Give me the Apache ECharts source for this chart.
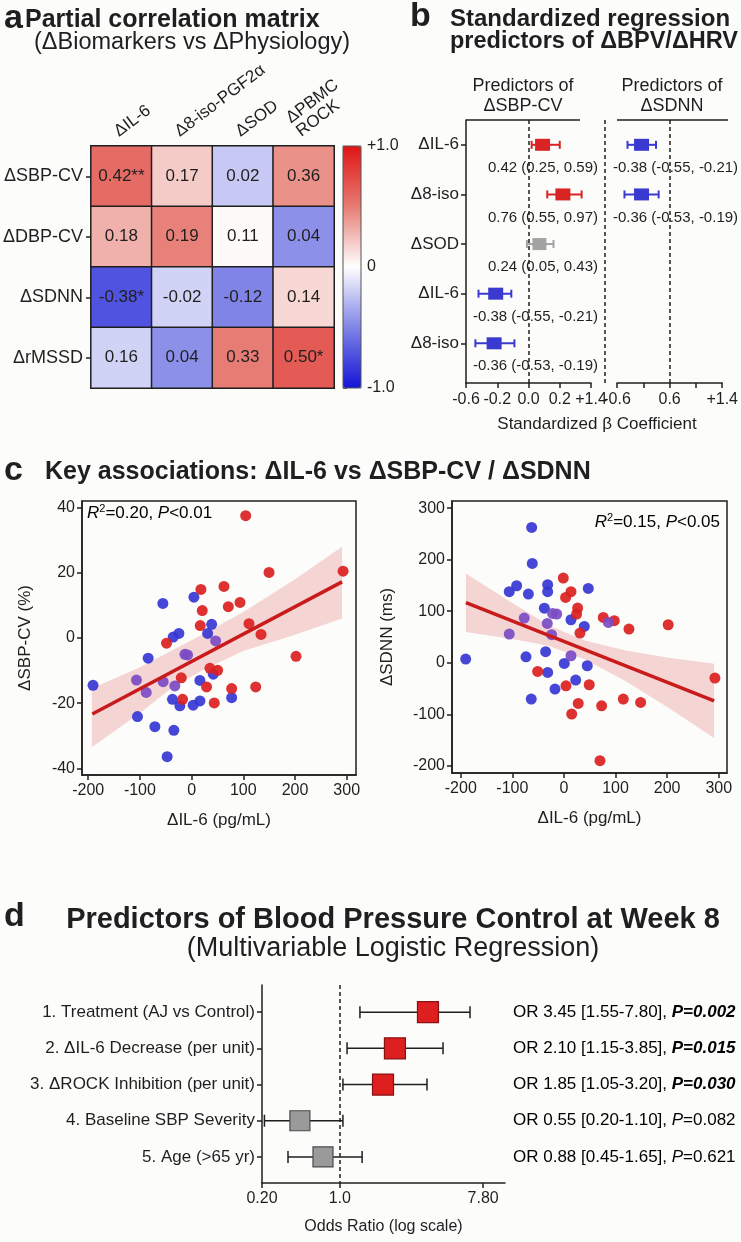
<!DOCTYPE html>
<html>
<head>
<meta charset="utf-8">
<script src="https://cdn.jsdelivr.net/npm/echarts@6/dist/echarts.min.js"></script>
<style>
html, body { margin: 0; padding: 0; background: #fcfcfb; }
#chart { width: 741px; height: 1242px; }
</style>
</head>
<body>
<div id="chart"></div>
<script>
const FONT = '"Liberation Sans", Arial, Helvetica, sans-serif';
const INK = '#1f1f1f';

// ---- a: partial correlation matrix
const corrCols = ['ΔIL-6', 'Δ8-iso-PGF2α', 'ΔSOD', 'ΔPBMC\nROCK'];
const corrRows = ['ΔSBP-CV', 'ΔDBP-CV', 'ΔSDNN', 'ΔrMSSD'];
const corrVals = [
  [0.42, 0.17, 0.02, 0.36],
  [0.18, 0.19, 0.11, 0.04],
  [-0.38, -0.02, -0.12, 0.14],
  [0.16, 0.04, 0.33, 0.50]
];
const corrStars = [
  ['**', '', '', ''],
  ['', '', '', ''],
  ['*', '', '', ''],
  ['', '', '', '*']
];
// shade of each cell as printed (the colours do not follow r exactly)
const corrShade = [
  [0.58, 0.2, -0.22, 0.42],
  [0.3, 0.48, 0.02, -0.45],
  [-0.72, -0.18, -0.5, 0.15],
  [-0.18, -0.45, 0.5, 0.66]
];
const colorbarLabels = {'1': '+1.0', '0': '0', '-1': '-1.0'};

// ---- b: standardized regression (axis labels are not to scale, so marks use plot units)
const bNames = ['ΔIL-6', 'Δ8-iso', 'ΔSOD', 'ΔIL-6', 'Δ8-iso'];
const bBeta = [0.42, 0.76, 0.24, -0.38, -0.36];
const bLow = [0.25, 0.55, 0.05, -0.55, -0.53];
const bHigh = [0.59, 0.97, 0.43, -0.21, -0.19];
const bGroup = ['pos', 'pos', 'ns', 'neg', 'neg'];
const bPlotMid = [0.09, 0.22, 0.07, -0.21, -0.22];
const bPlotLow = [0.02, 0.12, -0.01, -0.32, -0.34];
const bPlotHigh = [0.20, 0.34, 0.16, -0.11, -0.09];
const bTickLabels = ['-0.6', '-0.2', '0.0', '0.2', '+1.4'];

const hBeta = [-0.38, -0.36];
const hLow = [-0.55, -0.53];
const hHigh = [-0.21, -0.19];
const hGroup = ['neg', 'neg'];
const hPlotMid = [-0.04, -0.04];
const hPlotLow = [-0.36, -0.43];
const hPlotHigh = [0.29, 0.35];
const hTickLabels = ['-0.6', '', '0.6', '', '+1.4'];

// ---- c: IL-6 vs SBP-CV (left) and vs SDNN (right)
const sbpBlue = [[-55.6, 10.6], [-35.6, 0.3], [-24.6, 1.4], [4.5, 12.5], [38.8, 4.2], [31, 1.4], [-190.7, -14.5],
  [-84, -6.2], [-37, -18.8], [-22.7, -20.8], [-104.7, -24.1], [-71, -27.2], [-34.3, -28.3], [-47.3, -36.4],
  [41.9, -11.1], [16.1, -13], [77.5, -18.3], [16.1, -19.3], [3, -20.6]];
const sbpRed = [[-48.5, -1.6], [104.6, 37.5], [149.8, 20.1], [293, 20.5], [18, 14.9], [62.6, 15.8], [20.6, 8.4],
  [71, 9.6], [93.6, 10.9], [16.7, 3.8], [111, 4.4], [134.3, 1.1], [-17.5, -18.8], [-20, -12.2], [202, -5.6],
  [35.5, -9.3], [50.4, -9.9], [29, -15], [77.5, -15.5], [124, -15], [43.8, -19.9]];
const sbpPurple = [[46.5, -0.9], [-106.6, -12.9], [-87.8, -16.7], [-55, -13.4], [-32.4, -14.7], [-7.8, -5.2], [-13, -5]];
const sbpFit = [[-192, -23.3], [291, 17.2]];
const sbpBandX = [-193, -100, -40, 20, 100, 200, 291];
const sbpBandHi = [-15.5, -9, -4, 1, 8, 18, 28];
const sbpBandLo = [-33.5, -23, -15.5, -10, -4, 1, 6];

const sdnnBlue = [[-62.6, 262.7], [-61.4, 192.8], [-106, 137.9], [-91.7, 149.5], [-69, 133.4], [-31.6, 151.5],
  [-31.6, 137.9], [-38, 106], [47.1, 144.3], [13.6, 83.5], [39.4, 70.5], [-190.5, 7.2], [-73.6, 11.6],
  [-35.5, 21.4], [-31.6, -18.8], [-63.4, -70.5], [-17.4, -51.1], [0.6, -1.3], [45.2, -5.8], [22.7, -33.6]];
const sdnnRed = [[-1.3, 164.4], [13.6, 137.9], [3.2, 126.8], [26.5, 106.2], [24.5, 94.6], [31, 57.7], [76.2, 88],
  [97.5, 81.6], [126, 65.4], [202, 73.8], [-51, -16.8], [3.9, -44.7], [49, -42.7], [27.7, -79], [73, -83.5],
  [115, -70.5], [148.6, -77], [15, -99.6], [69.8, -190], [292.6, -29.7]];
const sdnnPurple = [[-77, 86.8], [-106, 55.7], [-32.3, 76.3], [-22, 95.7], [-24, 54.4], [-14, 94.6], [86, 78.3], [13.6, 13.6]];
const sdnnFit = [[-190, 116.5], [291, -74]];
const sdnnBandX = [-190, -100, -30, 40, 120, 200, 291];
const sdnnBandHi = [173.5, 116, 73, 43, 24, 10, -2];
const sdnnBandLo = [59.5, 46, 33, 7, -36, -86, -146];

const fitR2 = ['0.20', '0.15'];
const fitP = ['<0.01', '<0.05'];
const ilTicks = [-200, -100, 0, 100, 200, 300];
const sbpTicks = [-40, -20, 0, 20, 40];
const sdnnTicks = [-200, -100, 0, 100, 200, 300];

// ---- d: logistic regression (log axis printed with uneven labels, marks in plot units)
const dNames = ['1. Treatment (AJ vs Control)', '2. ΔIL-6 Decrease (per unit)', '3. ΔROCK Inhibition (per unit)',
  '4. Baseline SBP Severity', '5. Age (>65 yr)'];
const dOR = [3.45, 2.10, 1.85, 0.55, 0.88];
const dLow = [1.55, 1.15, 1.05, 0.20, 0.45];
const dHigh = [7.80, 3.85, 3.20, 1.10, 1.65];
const dP = [0.002, 0.015, 0.030, 0.082, 0.621];
const dPlotMid = [0.683, 0.547, 0.498, 0.156, 0.251];
const dPlotLow = [0.403, 0.35, 0.333, 0.01, 0.107];
const dPlotHigh = [0.856, 0.745, 0.679, 0.333, 0.412];
const dTickPos = [0, 0.32, 0.91];
const dTickLabels = ['0.20', '1.0', '7.80'];

const looks = {
  pos: {fill: '#d92424', edge: null, whisker: '#d92424', w: 15, h: 12},
  neg: {fill: '#3a3ad0', edge: null, whisker: '#3a3ad0', w: 15, h: 12},
  ns: {fill: '#a3a3a3', edge: null, whisker: '#a3a3a3', w: 14, h: 12},
  sig: {fill: '#dd1f1f', edge: '#8a1111', whisker: INK, w: 21, h: 21},
  nsd: {fill: '#9a9a9a', edge: '#4a4a4a', whisker: INK, w: 20, h: 20}
};

const chart = echarts.init(document.getElementById('chart'));

const heatData = [];
corrRows.forEach((r, i) => corrCols.forEach((c, j) => heatData.push([j, i, corrShade[i][j]])));

const fmt2 = v => v.toFixed(2);
const ciText = (m, l, h) => fmt2(m) + ' (' + fmt2(l) + ', ' + fmt2(h) + ')';

function forestRenderer(cfg) {
  return function (params, api) {
    const i = params.dataIndex;
    const row = api.value(3);
    const mid = api.coord([api.value(0), row]);
    const lo = api.coord([api.value(1), row]);
    const hi = api.coord([api.value(2), row]);
    const y = mid[1];
    const look = looks[cfg.group[i]];
    const ws = {stroke: look.whisker, lineWidth: cfg.lw};
    const kids = [
      {type: 'line', shape: {x1: lo[0], y1: y, x2: hi[0], y2: y}, style: ws},
      {type: 'line', shape: {x1: lo[0], y1: y - cfg.cap, x2: lo[0], y2: y + cfg.cap}, style: ws},
      {type: 'line', shape: {x1: hi[0], y1: y - cfg.cap, x2: hi[0], y2: y + cfg.cap}, style: ws},
      {type: 'rect', shape: {x: mid[0] - look.w / 2, y: y - look.h / 2, width: look.w, height: look.h},
        style: {fill: look.fill, stroke: look.edge, lineWidth: look.edge ? 1.2 : 0}}
    ];
    const t = cfg.text(i, api, row, y);
    if (t) kids.push({type: 'text', style: t});
    return {type: 'group', children: kids};
  };
}

function bandRenderer(xs, his, los) {
  return function (params, api) {
    if (params.dataIndex !== 0) return null;
    const pts = [];
    xs.forEach((x, k) => pts.push(api.coord([x, his[k]])));
    for (let k = xs.length - 1; k >= 0; k--) pts.push(api.coord([xs[k], los[k]]));
    return {type: 'polygon', shape: {points: pts}, style: {fill: 'rgba(222,110,110,0.28)'}};
  };
}

const axisLine = {show: true, onZero: false, lineStyle: {color: INK, width: 1.5}};
const tick = {show: true, length: 5, lineStyle: {color: INK, width: 1.5}};
const lab = (size) => ({fontSize: size, color: INK, fontFamily: FONT});
const dashed = {type: [4, 3], color: INK, width: 1.5};

function scatterAxes(gi, xr, yr, xTicks, yTicks, xName, yName) {
  return {
    x: {type: 'value', gridIndex: gi, min: xr[0], max: xr[1], axisLine, splitLine: {show: false},
      axisTick: Object.assign({customValues: xTicks}, tick),
      axisLabel: Object.assign({customValues: xTicks, margin: 8}, lab(16)),
      name: xName, nameLocation: 'middle', nameGap: 37, nameTextStyle: lab(17)},
    y: {type: 'value', gridIndex: gi, min: yr[0], max: yr[1], axisLine, splitLine: {show: false},
      axisTick: Object.assign({customValues: yTicks}, tick),
      axisLabel: Object.assign({customValues: yTicks, margin: 7}, lab(16)),
      name: yName, nameLocation: 'middle', nameGap: 48, nameRotate: 90, nameTextStyle: lab(17)}
  };
}
const sL = scatterAxes(4, [-212, 318], [-42, 42], ilTicks, sbpTicks, 'ΔIL-6 (pg/mL)', 'ΔSBP-CV (%)');
const sR = scatterAxes(5, [-217, 316], [-214, 314], ilTicks, sdnnTicks, 'ΔIL-6 (pg/mL)', 'ΔSDNN (ms)');
sR.y.nameGap = 56;

function dots(data, color, xi) {
  return {type: 'scatter', xAxisIndex: xi, yAxisIndex: xi, data, symbolSize: 11, z: 3,
    itemStyle: {color, opacity: 0.92}, silent: true};
}
function fitLine(data, xi) {
  return {type: 'line', xAxisIndex: xi, yAxisIndex: xi, data, showSymbol: false, z: 4, silent: true,
    lineStyle: {color: '#c91b1b', width: 3.5}};
}

const txt = (x, y, text, font, align, extra) => ({type: 'text', x, y, silent: true,
  style: Object.assign({text, font: font + ' ' + FONT, fill: INK, textAlign: align || 'left',
    textVerticalAlign: 'middle'}, extra || {})});
const seg = (x1, y1, x2, y2, dash) => ({type: 'line', silent: true, shape: {x1, y1, x2, y2},
  style: {stroke: INK, lineWidth: 1.5, lineDash: dash ? [4, 3] : null}});

const r2Rich = {
  n: {fontSize: 17, fontFamily: FONT, color: INK, lineHeight: 20},
  i: {fontSize: 17, fontFamily: FONT, color: INK, fontStyle: 'italic', lineHeight: 20},
  s: {fontSize: 11, fontFamily: FONT, color: INK, verticalAlign: 'top', lineHeight: 20, padding: [0, 0, 8, 0]}
};
const r2Text = k => '{i|R}{s|2}{n|=' + fitR2[k] + ', }{i|P}{n|' + fitP[k] + '}';

const option = {
  backgroundColor: '#fcfcfb',
  animation: false,
  textStyle: {fontFamily: FONT},
  grid: [
    {left: 88, top: 146, width: 246, height: 242},
    {left: 343, top: 146, width: 18, height: 242},
    {left: 466, top: 120, width: 125, height: 263},
    {left: 617, top: 120, width: 111, height: 263},
    {left: 82, top: 501, width: 274, height: 274, show: true, borderColor: INK, borderWidth: 1.5},
    {left: 452, top: 501, width: 275, height: 272, show: true, borderColor: INK, borderWidth: 1.5},
    {left: 262, top: 985, width: 243, height: 198}
  ],
  xAxis: [
    {type: 'category', gridIndex: 0, data: corrCols, position: 'top', axisLine: {show: false},
      axisTick: {show: false},
      axisLabel: Object.assign({rotate: -37, margin: 6, interval: 0, verticalAlign: 'bottom'}, lab(17))},
    {type: 'value', gridIndex: 1, show: false, min: 0, max: 1},
    {type: 'value', gridIndex: 2, min: -0.4, max: 0.4, interval: 0.2, axisLine, axisTick: tick,
      splitLine: {show: false},
      axisLabel: Object.assign({margin: 9, formatter: v => bTickLabels[Math.round((v + 0.4) / 0.2)]}, lab(16))},
    {type: 'value', gridIndex: 3, min: -0.6, max: 1.8, interval: 0.6, axisLine, axisTick: tick,
      splitLine: {show: false},
      axisLabel: Object.assign({margin: 9, formatter: v => hTickLabels[Math.round((v + 0.6) / 0.6)]}, lab(16))},
    sL.x, sR.x,
    {type: 'value', gridIndex: 6, min: 0, max: 1, axisLine, splitLine: {show: false},
      axisTick: Object.assign({customValues: dTickPos}, tick),
      axisLabel: Object.assign({customValues: dTickPos, margin: 8,
        formatter: v => dTickLabels[dTickPos.indexOf(v)]}, lab(16)),
      name: 'Odds Ratio (log scale)', nameLocation: 'middle', nameGap: 36, nameTextStyle: lab(16)}
  ],
  yAxis: [
    {type: 'category', gridIndex: 0, data: corrRows, inverse: true, axisLine: {show: false},
      axisTick: {show: true, alignWithLabel: true, length: 5, lineStyle: {color: INK, width: 1.5}},
      axisLabel: Object.assign({margin: 8}, lab(18))},
    {type: 'value', gridIndex: 1, min: -1, max: 1, interval: 0.5, position: 'right',
      axisLine: {show: false}, splitLine: {show: false},
      axisTick: {show: true, length: 4, lineStyle: {color: '#555', width: 1}},
      axisLabel: Object.assign({margin: 6, formatter: v => colorbarLabels[String(v)] || ''}, lab(16))},
    {type: 'value', gridIndex: 2, inverse: true, min: -0.5, max: 4.8, axisLine, splitLine: {show: false},
      axisTick: Object.assign({customValues: [0, 1, 2, 3, 4]}, tick),
      axisLabel: Object.assign({customValues: [0, 1, 2, 3, 4], margin: 7, formatter: v => bNames[v]}, lab(17))},
    {type: 'value', gridIndex: 3, inverse: true, min: -0.5, max: 4.8, show: false},
    sL.y, sR.y,
    {type: 'value', gridIndex: 6, inverse: true, min: -0.75, max: 4.72, axisLine, splitLine: {show: false},
      axisTick: Object.assign({customValues: [0, 1, 2, 3, 4]}, tick),
      axisLabel: Object.assign({customValues: [0, 1, 2, 3, 4], margin: 7, formatter: v => dNames[v]}, lab(17))}
  ],
  visualMap: {
    type: 'continuous', seriesIndex: 0, dimension: 2, min: -1, max: 1, calculable: false,
    left: 343, top: 146, itemWidth: 18, itemHeight: 242, padding: 0, text: null, hoverLink: false,
    inRange: {color: ['#1414d6', '#7f84e6', '#ffffff', '#e67c74', '#e01414']}
  },
  series: [
    {type: 'heatmap', xAxisIndex: 0, yAxisIndex: 0, data: heatData, silent: true,
      itemStyle: {borderColor: INK, borderWidth: 1.5},
      label: {show: true, fontSize: 17, color: INK, fontFamily: FONT,
        formatter: p => fmt2(corrVals[p.value[1]][p.value[0]]) + corrStars[p.value[1]][p.value[0]]}},
    {type: 'custom', xAxisIndex: 2, yAxisIndex: 2, silent: true,
      data: bNames.map((n, i) => [bPlotMid[i], bPlotLow[i], bPlotHigh[i], i]),
      renderItem: forestRenderer({group: bGroup, lw: 2, cap: 4,
        text: (i, api, row, y) => ({x: api.coord([0.4, row])[0] + 7, y: y + 23,
          text: ciText(bBeta[i], bLow[i], bHigh[i]), font: '15px ' + FONT, fill: INK,
          textAlign: 'right', textVerticalAlign: 'middle', align: 'right', verticalAlign: 'middle'})}),
      markLine: {silent: true, symbol: 'none', label: {show: false}, lineStyle: dashed, data: [{xAxis: 0}]}},
    {type: 'custom', xAxisIndex: 3, yAxisIndex: 3, silent: true,
      data: hBeta.map((n, i) => [hPlotMid[i], hPlotLow[i], hPlotHigh[i], i]),
      renderItem: forestRenderer({group: hGroup, lw: 2, cap: 4,
        text: (i, api, row, y) => ({x: api.coord([-0.6, row])[0] - 4, y: y + 23,
          text: ciText(hBeta[i], hLow[i], hHigh[i]), font: '15px ' + FONT, fill: INK,
          textAlign: 'left', textVerticalAlign: 'middle', align: 'left', verticalAlign: 'middle'})}),
      markLine: {silent: true, symbol: 'none', label: {show: false}, lineStyle: dashed, data: [{xAxis: 0.6}]}},
    {type: 'custom', xAxisIndex: 4, yAxisIndex: 4, silent: true, z: 1, data: [[0]],
      renderItem: bandRenderer(sbpBandX, sbpBandHi, sbpBandLo)},
    dots(sbpBlue, '#3636d4', 4), dots(sbpRed, '#db1f1f', 4), dots(sbpPurple, '#7b4bc3', 4),
    fitLine(sbpFit, 4),
    {type: 'custom', xAxisIndex: 5, yAxisIndex: 5, silent: true, z: 1, data: [[0]],
      renderItem: bandRenderer(sdnnBandX, sdnnBandHi, sdnnBandLo)},
    dots(sdnnBlue, '#3636d4', 5), dots(sdnnRed, '#db1f1f', 5), dots(sdnnPurple, '#7b4bc3', 5),
    fitLine(sdnnFit, 5),
    {type: 'custom', xAxisIndex: 6, yAxisIndex: 6, silent: true,
      data: dNames.map((n, i) => [dPlotMid[i], dPlotLow[i], dPlotHigh[i], i]),
      renderItem: forestRenderer({group: dP.map(p => p < 0.05 ? 'sig' : 'nsd'), lw: 1.5, cap: 6,
        text: (i, api, row, y) => {
          const sig = dP[i] < 0.05;
          const head = 'OR ' + fmt2(dOR[i]) + ' [' + fmt2(dLow[i]) + '-' + fmt2(dHigh[i]) + '], ';
          return {x: api.coord([1, row])[0] + 8, y, textVerticalAlign: 'middle', verticalAlign: 'middle',
            text: '{n|' + head + '}' + (sig ? '{pb|P=' + dP[i].toFixed(3) + '}' : '{pi|P}{n|=' + dP[i].toFixed(3) + '}'),
            rich: {
              n: {fontSize: 17, fontFamily: FONT, color: INK},
              pb: {fontSize: 17, fontFamily: FONT, color: INK, fontWeight: 'bold', fontStyle: 'italic'},
              pi: {fontSize: 17, fontFamily: FONT, color: INK, fontStyle: 'italic'}
            }};
        }}),
      markLine: {silent: true, symbol: 'none', label: {show: false}, lineStyle: dashed, data: [{xAxis: dTickPos[1]}]}}
  ],
  graphic: [
    txt(4, 19, 'a', 'bold 34px'),
    txt(25, 20, 'Partial correlation matrix', 'bold 25px'),
    txt(34, 43, '(ΔBiomarkers vs ΔPhysiology)', '23.5px'),
    {type: 'rect', silent: true, shape: {x: 343, y: 146, width: 18, height: 242},
      style: {fill: null, stroke: '#555', lineWidth: 1}, z: 100},
    txt(410, 17, 'b', 'bold 34px'),
    txt(450, 19, 'Standardized regression', 'bold 24px'),
    txt(450, 42, 'predictors of ΔBPV/ΔHRV', 'bold 23.5px'),
    txt(523, 86, 'Predictors of', '18px', 'center'),
    txt(523, 106, 'ΔSBP-CV', '18px', 'center'),
    txt(672, 86, 'Predictors of', '18px', 'center'),
    txt(672, 106, 'ΔSDNN', '18px', 'center'),
    seg(466, 120, 580, 120), seg(617, 120, 728, 120),
    seg(605, 120, 605, 385, true),
    txt(597, 424, 'Standardized β Coefficient', '17px', 'center'),
    txt(4, 471, 'c', 'bold 34px'),
    txt(45, 472, 'Key associations: ΔIL-6 vs ΔSBP-CV / ΔSDNN', 'bold 25px'),
    {type: 'text', x: 87, y: 513, silent: true, style: {text: r2Text(0), rich: r2Rich, textVerticalAlign: 'middle'}},
    {type: 'text', x: 720, y: 522, silent: true, style: {text: r2Text(1), rich: r2Rich, textAlign: 'right', textVerticalAlign: 'middle'}},
    txt(4, 917, 'd', 'bold 34px'),
    txt(393, 920, 'Predictors of Blood Pressure Control at Week 8', 'bold 29px', 'center'),
    txt(393, 949, '(Multivariable Logistic Regression)', '27px', 'center')
  ]
};

chart.setOption(option);
</script>
</body>
</html>
